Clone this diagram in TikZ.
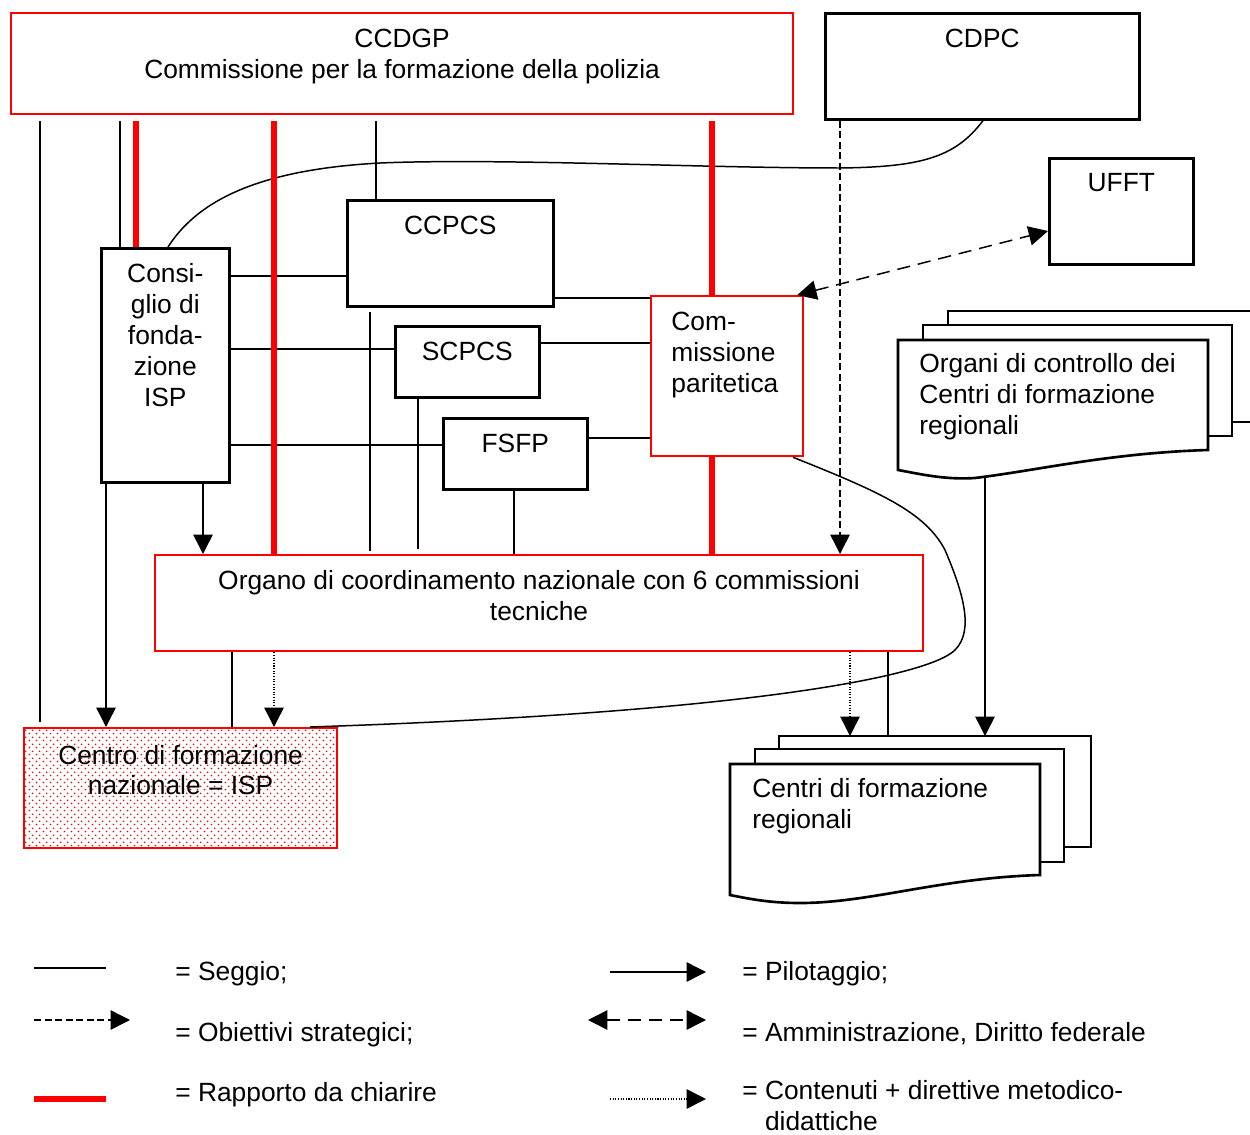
\documentclass[tikz,border=0pt]{standalone}
\usepackage{fontspec}
\setmainfont{Liberation Sans}
\usetikzlibrary{arrows.meta, patterns.meta}

\tikzdeclarepattern{
  name=ispdots, type=uncolored,
  bounding box={(0pt,0pt) and (4pt,4pt)},
  tile size={(4pt,4pt)},
  code={
    \pgfpathcircle{\pgfpoint{1pt}{1pt}}{0.55pt}
    \pgfpathcircle{\pgfpoint{3pt}{3pt}}{0.55pt}
    \pgfusepath{fill}
  }
}

\tikzset{
  box/.style={draw, line width=1.5pt, anchor=north west, inner sep=0pt},
  redbox/.style={box, draw=red, line width=1.3pt},
  toptext/.style={label={[anchor=north, inner sep=0pt, yshift=-9.3pt, align=center]north:{#1}}},
  lefttext/.style={label={[anchor=north west, inner sep=0pt, xshift=12pt, yshift=-9.6pt, align=left]north west:{#1}}},
  seggio/.style={line width=0.85pt},
  pilot/.style={seggio, -{Triangle[length=11pt, width=11pt]}},
  strat/.style={pilot, dash pattern=on 4pt off 2pt},
  amm/.style={seggio, dash pattern=on 7.5pt off 4.5pt, {Triangle[length=11pt, width=11pt]}-{Triangle[length=11pt, width=11pt]}},
  contenuti/.style={pilot, dash pattern=on 0.6pt off 0.9pt},
  chiarire/.style={draw=red, line width=3.8pt},
  gap/.style={shorten <=3.4pt},
  sheet/.style={line width=1.5pt, fill=white},
  legtext/.style={anchor=base west, inner sep=0pt}
}

\begin{document}
\begin{tikzpicture}[x=0.02cm, y=-0.02cm, font=\fontsize{15pt}{17.6pt}\selectfont]
  \useasboundingbox (0,0) rectangle (1250,1135);
  \clip (0,0) rectangle (1250,1135);

  % boxes
  \node[redbox, minimum width=15.64cm, minimum height=2.02cm,
        toptext={CCDGP\\Commissione per la formazione della polizia}] (ccdgp) at (10,12) {};
  \node[box, minimum width=6.28cm, minimum height=2.12cm, toptext=CDPC] (cdpc) at (824,12) {};
  \node[box, minimum width=2.88cm, minimum height=2.12cm, toptext=UFFT] (ufft) at (1048,157) {};
  \node[box, minimum width=4.12cm, minimum height=2.12cm, toptext=CCPCS] (ccpcs) at (346,199) {};
  \node[box, minimum width=2.56cm, minimum height=4.68cm,
        toptext={Consi-\\glio di\\fonda-\\zione\\ISP}] (consiglio) at (100,247) {};
  \node[box, minimum width=2.88cm, minimum height=1.42cm, toptext=SCPCS] (scpcs) at (394,325) {};
  \node[box, minimum width=2.88cm, minimum height=1.42cm, toptext=FSFP] (fsfp) at (442,417) {};
  \node[redbox, minimum width=3.04cm, minimum height=3.2cm,
        lefttext={Com-\\missione\\paritetica}] (paritetica) at (650,295) {};
  \node[redbox, minimum width=15.36cm, minimum height=1.92cm,
        toptext={Organo di coordinamento nazionale con 6 commissioni\\tecniche}] (organo) at (154,554) {};
  \node[redbox, pattern=ispdots, pattern color=red, minimum width=6.26cm, minimum height=2.4cm,
        label={[anchor=north, inner sep=0pt, yshift=-10pt, align=center]north:{Centro di formazione\\nazionale = ISP}}] (centro) at (23,727) {};

  % document stacks
  \draw[sheet] (948,311) rectangle (1258,422);
  \draw[sheet] (923,325) rectangle (1232,436);
  \draw[sheet] (898,340) -- (1208,340) -- (1208,450)
    .. controls (1110,453) and (1040,470) .. (975,478)
    .. controls (945,480) and (920,474) .. (898,470) -- cycle;
  \node[anchor=north west, inner sep=0pt, align=left] (organi) at (919,353)
    {Organi di controllo dei\\Centri di formazione\\regionali};
  \coordinate (orgbot) at (985,478);

  \draw[sheet] (779,736) rectangle (1091,847);
  \draw[sheet] (755,749) rectangle (1064,862);
  \draw[sheet] (730,764) -- (1040,764) -- (1040,875)
    .. controls (940,878) and (870,903) .. (800,903)
    .. controls (770,903) and (750,899) .. (730,895) -- cycle;
  \node[anchor=north west, inner sep=0pt, align=left] (regionali) at (752,778)
    {Centri di formazione\\regionali};
  \coordinate (regtop) at (779,736);

  % seggio
  \path[seggio]
    (ccdgp.south -| 40,0) edge[gap, shorten >=2.8pt] (centro.north -| 40,0)
    (ccdgp.south -| 120,0) edge[gap] (consiglio.north -| 120,0)
    (ccdgp.south -| 376,0) edge[gap] (ccpcs.north -| 376,0)
    (consiglio.east |- 0,276) edge (ccpcs.west |- 0,276)
    (consiglio.east |- 0,349) edge (scpcs.west |- 0,349)
    (consiglio.east |- 0,445) edge (fsfp.west |- 0,445)
    (ccpcs.east |- 0,298) edge (paritetica.west |- 0,298)
    (scpcs.east |- 0,343) edge (paritetica.west |- 0,343)
    (fsfp.east |- 0,438) edge (paritetica.west |- 0,438)
    (ccpcs.south -| 370,0) edge[shorten <=2.5pt, shorten >=1.5pt] (organo.north -| 370,0)
    (scpcs.south -| 418,0) edge[shorten >=3pt] (organo.north -| 418,0)
    (fsfp.south -| 514,0) edge (organo.north -| 514,0)
    (organo.south -| 232,0) edge (centro.north -| 232,0)
    (organo.south -| 888,0) edge (regtop -| 888,0);
  \draw[seggio] (cdpc.south -| 983,0) .. controls (955,158) and (920,167) .. (840,168)
    .. controls (700,168) and (500,158) .. (380,163)
    .. controls (250,170) and (195,205) .. (consiglio.north -| 168,0);
  \draw[seggio] (paritetica.south -| 793,0) .. controls (880,492) and (925,512) .. (945,550)
    .. controls (962,590) and (975,630) .. (955,650)
    .. controls (930,675) and (760,712) .. (centro.north -| 310,0);

  % rapporto da chiarire
  \path[chiarire]
    (ccdgp.south -| 136,0) edge[gap] (consiglio.north -| 136,0)
    (ccdgp.south -| 274,0) edge[gap] (organo.north -| 274,0)
    (ccdgp.south -| 712,0) edge[gap] (paritetica.north -| 712,0)
    (paritetica.south -| 712,0) edge (organo.north -| 712,0);

  % pilotaggio, obiettivi, contenuti
  \path[pilot]
    (consiglio.south -| 203,0) edge (organo.north -| 203,0)
    (consiglio.south -| 106,0) edge (centro.north -| 106,0)
    (orgbot) edge (regtop -| 985,0);
  \draw[strat] (cdpc.south -| 840,0) -- (organo.north -| 840,0);
  \draw[amm] ([xshift=-4pt]paritetica.north east) -- (ufft.west |- 0,231);
  \path[contenuti]
    (organo.south -| 274,0) edge (centro.north -| 274,0)
    (organo.south -| 850,0) edge (regtop -| 850,0);

  % legend
  \draw[seggio] (34,968) -- (106,968);
  \draw[pilot] (610,972) -- (706,972);
  \draw[strat] (34,1020) -- (130,1020);
  \draw[amm] (588,1020) -- (706,1020);
  \draw[chiarire] (34,1099) -- (106,1099);
  \draw[contenuti] (610,1099) -- (706,1099);
  \node[legtext] (lseggio) at (175,980) {= Seggio;};
  \node[legtext] (lpilot) at (742,980) {= Pilotaggio;};
  \node[legtext] (lstrat) at (175,1041) {= Obiettivi strategici;};
  \node[legtext] (lamm) at (742,1041) {= Amministrazione, Diritto federale};
  \node[legtext] (lchiar) at (175,1101) {= Rapporto da chiarire};
  \node[anchor=north west, inner sep=0pt, align=left] (lcont) at (742,1080)
    {= Contenuti + direttive metodico-\\\phantom{=}\ didattiche};
\end{tikzpicture}
\end{document}
